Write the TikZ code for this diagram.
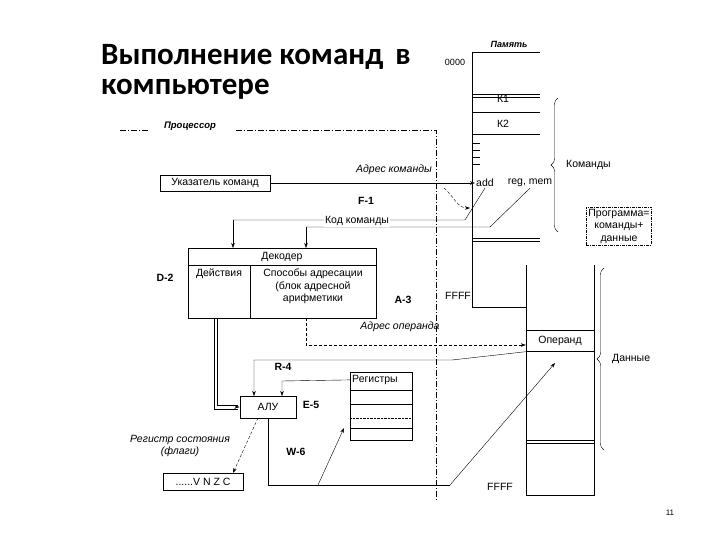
\documentclass[tikz,border=0pt]{standalone}
\usepackage{fontspec}
\setmainfont{Liberation Sans}
\newfontfamily\titlefont{Carlito}
\usetikzlibrary{calc,positioning,arrows.meta,decorations.pathreplacing}

\begin{document}
\begin{tikzpicture}[x=1pt,y=-1pt
        , every node/.style={font=\fontsize{10.5}{12.5}\selectfont, inner sep=1pt}
        , box/.style={draw, line width=1pt}
        , lbl/.style={font=\fontsize{10.5}{12.5}\selectfont\bfseries}
        , ital/.style={font=\fontsize{10.5}{12.5}\selectfont\itshape}
        , arr/.style={-{Stealth[length=5pt,width=3.5pt]}}
        , procline/.style={dash pattern=on 6pt off 2pt on 1pt off 2pt}
        , brc/.style={decorate, decoration={brace, amplitude=7pt}}
        ]
        \useasboundingbox (0,0) rectangle (720,540);

        % title
        \node[anchor=north west, align=left, inner sep=0pt, font=\titlefont\bfseries\fontsize{31}{30}\selectfont] (title) at (101,44) {Выполнение команд \,в\\компьютере};

        % memory, upper part
        \node[font=\fontsize{9}{10}\selectfont\bfseries\itshape] (mem) at (509,44) {Память};
        \node[font=\fontsize{9}{10}\selectfont] (m0) at (455,62) {0000};
        \draw (472,52) -- (540,52);
        \draw (472,52) -- (472,307) -- (526,307);
        \draw (472,94) -- (540,94) (472,97) -- (540,97);
        \draw (472,112) -- (540,112) (472,134) -- (540,134);
        \foreach \y in {143,150,157,164} \draw (472,\y) -- (480,\y);
        \draw (472,238) -- (540,238) (472,241) -- (540,241);
        \node (k1) at (503,99) {К1};
        \node (k2) at (503,124) {К2};
        \node (add) at (485,183) {add};
        \node (regmem) at (530,183) {reg, mem};
        \node (ff1) at (458,296) {FFFF};
        \draw[brc] (558,232) -- (558,98) node[midway, right=7pt] (cmds) {Команды};
        \node[draw, dash pattern=on 3pt off 1pt on 1pt off 1pt, align=center, inner sep=2pt] (prog) at (619,226) {Программа=\\команды+\\данные};

        % memory, lower part
        \draw (526,265) -- (526,495) -- (594,495) -- (594,265);
        \node[draw, minimum width=68pt, minimum height=21pt] (oper) at (560,341) {Операнд};
        \draw (526,440) -- (594,440) (526,443) -- (594,443);
        \node (ff2) at (500,487) {FFFF};
        \draw[brc] (604,450) -- (604,268) node[midway, right=7pt] (data) {Данные};

        % processor border
        \coordinate (pa) at (120,130);
        \coordinate (pb) at (436,130);
        \coordinate (pc) at (436,500);
        \draw[procline] (pa) -- (148,130);
        \node[font=\fontsize{9.5}{10}\selectfont\bfseries\itshape] (proc) at (190,126) {Процессор};
        \draw[procline] (236,130) -- (pb) -- (pc);

        % instruction pointer
        \node[draw, thick, minimum height=16pt, minimum width=110pt] (ip) at (215,183) {Указатель команд};
        \draw[arr, thick] (ip) -- (add);
        \node[ital] (acmd) at (394,170) {Адрес команды};
        \coordinate (dd1) at (444,188);
        \coordinate (dd2) at (470,208);
        \draw[arr, densely dashed] (dd1) to[out=-40,in=180] (dd2);
        \node[lbl] (f1) at (366,201) {F-1};

        % decoder
        \draw[box] (188,248) rectangle (376,318);
        \draw[box] (188,265) -- (376,265) (250,265) -- (250,318);
        \node (dec) at (282,257) {Декодер};
        \node[anchor=north] (act) at (219,268) {Действия};
        \node[anchor=north, align=center] (addr) at (313,268) {Способы адресации\\(блок адресной\\арифметики};
        \node[lbl] (d2) at (165,278) {D-2};
        \node[lbl] (a3) at (403,300) {A-3};

        % opcode lines
        \coordinate (c1) at (465,220);
        \coordinate (c2) at (490,227);
        \draw (add.south) -- (c1) -- (233,220);
        \draw[arr] (233,220) -- (233,248);
        \draw (regmem.south) -- (c2) -- (306,227);
        \draw[arr] (306,227) -- (306,248);
        \node[fill=white] (kod) at (357,221) {Код команды};

        % operand address
        \node[ital] (aop) at (400,327) {Адрес операнда};
        \draw[arr, densely dashed] (306,318) -- (306,345) -- (oper.west |- 0,345);

        % ALU and registers
        \node[box, minimum width=56pt, minimum height=22pt] (alu) at (268,407) {АЛУ};
        \node[lbl] (e5) at (311,405) {E-5};
        \draw (214,318) -- (214,409) -- (238,409) (217,318) -- (217,405) -- (238,405);
        \draw[arr] (236,407) -- (alu.west);
        \draw[thick] (350,372) rectangle (412,440);
        \node[anchor=north west, inner sep=2pt] (reg) at (350,373) {Регистры};
        \draw (350,390) -- (412,390) (350,404) -- (412,404) (350,428) -- (412,428);
        \draw[densely dotted] (350,418) -- (412,418);
        \draw[arr] (reg.west) -- (282,381) -- (282,396);
        \node[lbl] (r4) at (283,367) {R-4};
        \draw[arr] (oper.south west) -- (452,360) -- (254,360) -- (254,396);

        % write back
        \node[lbl] (w6) at (296,452) {W-6};
        \coordinate (wa) at (318,485);
        \coordinate (wb) at (450,485);
        \draw (268,418) -- (268,485) -- (wb);
        \draw[arr] (wb) -- (555,363);
        \draw[arr] (wa) -- (344,428);

        % flags
        \node[draw, thick, minimum width=80pt, minimum height=17pt] (flags) at (203,482) {......V N Z C};
        \draw[arr, densely dashed] (258,418) -- (233,473);
        \node[ital, align=center] (sr) at (180,446) {Регистр состояния\\(флаги)};

        \node[font=\fontsize{8}{9}\selectfont] (page) at (670,513) {11};
\end{tikzpicture}
\end{document}
